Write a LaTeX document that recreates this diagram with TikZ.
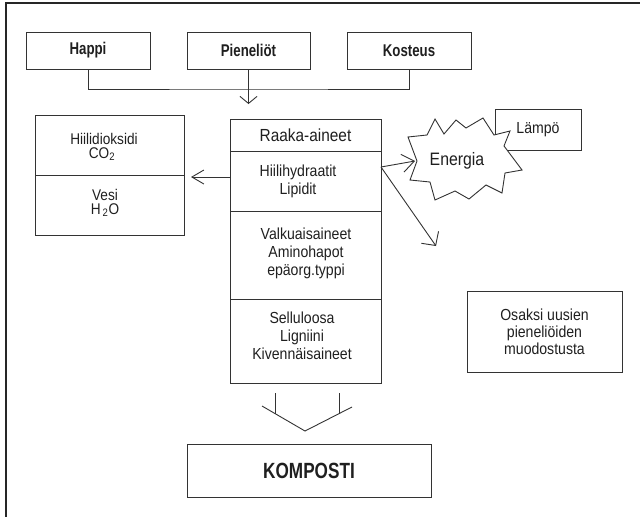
\documentclass[tikz,border=0pt]{standalone}
\usepackage{fontspec}
\setmainfont{Liberation Sans}
\newfontfamily\rfont[FakeStretch=0.88]{Liberation Sans}
\newfontfamily\bfont[FakeStretch=0.78]{Liberation Sans}
\usetikzlibrary{arrows.meta}
\begin{document}
\begin{tikzpicture}[x=1pt,y=-1pt,
  box/.style={draw=black!80, line width=0.9pt, inner sep=0pt, outer sep=0pt, text=black!88},
  txt/.style={inner sep=0pt, align=center, text=black!88, font=\rfont\fontsize{16}{18}\selectfont},
  bold/.style={font=\bfont\bfseries\fontsize{17}{20}\selectfont},
  lnk/.style={draw=black!80, line width=0.9pt},
  barb/.style 2 args={-{Straight Barb[length=#1,width=#2]}},
]
\useasboundingbox (0,0) rectangle (640,517);
% frame
\draw[line width=1.2pt, black!85] (640,3) -- (6,3) -- (6,517);

% top boxes
\node[box, bold, minimum width=124pt, minimum height=37pt] (happi) at (88,50.5) {Happi};
\node[box, bold, minimum width=123pt, minimum height=37pt] (pien) at (248.5,50.5) {Pieneliöt};
\node[box, bold, minimum width=124pt, minimum height=37pt] (kost) at (409,50.5) {Kosteus};

% joining connector
\coordinate (j) at (248.5,89);
\coordinate (tipA) at (248.5,104);
\draw[lnk] (happi.south) |- (j) -| (kost.south);
\draw[lnk, barb={7pt}{17pt}] (pien.south) -- (tipA);

% raw materials column
\node[box, minimum width=151pt, minimum height=32pt, font=\rfont\fontsize{17.5}{20}\selectfont] (raaka) at (305.5,135) {Raaka-aineet};
\node[box, minimum width=151pt, minimum height=60pt] (s1) at (305.5,181) {};
\node[box, minimum width=151pt, minimum height=88pt] (s2) at (305.5,255) {};
\node[box, minimum width=151pt, minimum height=84pt] (s3) at (305.5,341) {};
\node[txt] (t1) at (298,181) {Hiilihydraatit\\Lipidit};
\node[txt] (t2) at (306,253) {Valkuaisaineet\\Aminohapot\\epäorg.typpi};
\node[txt] (t3) at (302,336) {Selluloosa\\Ligniini\\Kivennäisaineet};

% left box
\node[box, minimum width=149pt, minimum height=60pt] (lb1) at (109.5,145) {};
\node[box, minimum width=149pt, minimum height=60pt] (lb2) at (109.5,205) {};
\node[txt, anchor=base, font=\rfont\fontsize{15.5}{16}\selectfont] (lt1a) at (104,144) {Hiilidioksidi};
\node[txt, anchor=base, font=\rfont\fontsize{15.5}{16}\selectfont] (lt1b) at (102,158) {CO\textsubscript{2}};
\node[txt, anchor=base, font=\rfont\fontsize{15.5}{16}\selectfont] (lt2a) at (105,200) {Vesi};
\node[txt, anchor=base, font=\rfont\fontsize{15.5}{16}\selectfont] (lt2b) at (105,214) {H\hspace{2pt}\textsubscript{2}O};

\coordinate (tipB) at (191,177);
\draw[lnk, barb={12pt}{14pt}] ([yshift=4pt]s1.west) -- (tipB);

% Lämpö box and energy star
\node[box, minimum width=86pt, minimum height=41pt, font=\rfont\fontsize{16}{18}\selectfont] (lampo) at (538,129.5) {Lämpö};
\draw[lnk, fill=white, line join=miter]
  (408,137) -- (427,135) -- (435,119) -- (444,134) -- (456,120) -- (466,128)
  -- (483,118) -- (494,135) -- (510,131) -- (504,146) -- (522,170) -- (505,173)
  -- (502,193) -- (486,185) -- (469,199) -- (455,191) -- (435,200) -- (430,182)
  -- (410,180) -- (417,161) -- cycle;
\node[txt, font=\rfont\fontsize{18}{20}\selectfont] (energia) at (457,161) {Energia};

\coordinate (tipC) at (415,161);
\coordinate (tipD) at (436,246);
\draw[lnk, barb={12pt}{18pt}] ([yshift=14pt]s1.east) -- (tipC);
\draw[lnk, barb={10pt}{21pt}] ([yshift=14pt]s1.east) -- (tipD);

% right box
\node[box, minimum width=155pt, minimum height=81pt, align=center, font=\rfont\fontsize{16}{17}\selectfont] (osaksi) at (544.5,331.5) {Osaksi uusien\\pieneliöiden\\muodostusta};

% wide down arrow
\coordinate (vl) at (275,393);
\coordinate (vr) at (339,393);
\coordinate (vtip) at (305,431);
\draw[lnk] (vl) -- (275,413.6);
\draw[lnk] (vr) -- (339,413.6);
\draw[lnk, line join=miter] (262,406) -- (vtip) -- (352,407);

% compost
\node[box, minimum width=244pt, minimum height=53pt, font=\bfont\bfseries\fontsize{22}{24}\selectfont] (kompo) at (309,470.5) {KOMPOSTI};
\end{tikzpicture}
\end{document}
